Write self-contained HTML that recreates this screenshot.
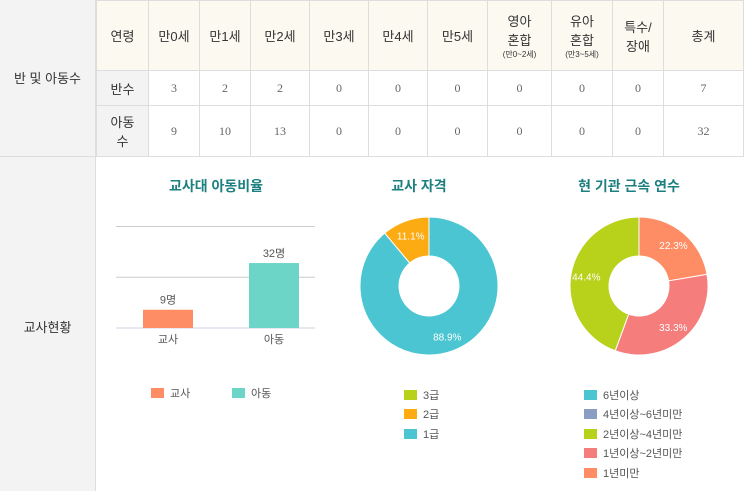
<!DOCTYPE html>
<html><head><meta charset="utf-8"><style>
body{margin:0;width:744px;height:491px;overflow:hidden;background:#fff;font-family:"Liberation Sans","Noto Sans CJK KR",sans-serif;color:#333;position:relative}
.abs{position:absolute}
table{position:absolute;left:96px;top:0;border-collapse:collapse;font-size:12px}
td{border:1px solid #ddd;text-align:center;padding:0;color:#666;font-family:"Liberation Serif","Noto Serif CJK SC",serif}
tr.h td{background:#fcf9f1;color:#333;font-family:"Liberation Sans","Noto Sans CJK KR",sans-serif;font-size:13px;height:69px}
td.rh{background:#f3f3f3;color:#333;font-family:"Liberation Sans","Noto Sans CJK KR",sans-serif;font-size:13px}
small{font-size:8px;display:block}
.title{color:#1d7f80;font-size:14px;font-weight:bold;text-align:center;width:200px;top:176px}
.lg{font-size:11px;color:#555;display:flex;align-items:center}
.lg i{display:inline-block;width:13px;height:10px;margin-right:6px}
</style></head><body>
<div class="abs" style="left:0;top:0;width:95px;height:491px;background:#f3f3f3;border-right:1px solid #ddd"></div>
<div class="abs" style="left:0;top:156px;width:744px;height:1px;background:#ddd"></div>
<div class="abs" style="left:0;top:68px;width:95px;text-align:center;font-size:13px">반 및 아동수</div>
<div class="abs" style="left:0;top:317px;width:95px;text-align:center;font-size:13px">교사현황</div>
<table>
<tr class="h"><td class="rh" style="width:51px;background:#fcf9f1">연령</td><td style="width:50px">만0세</td><td style="width:50px">만1세</td><td style="width:58px">만2세</td><td style="width:58px">만3세</td><td style="width:58px">만4세</td><td style="width:59px">만5세</td><td style="width:63px">영아<br>혼합<small>(만0~2세)</small></td><td style="width:60px">유아<br>혼합<small>(만3~5세)</small></td><td style="width:50px">특수/<br>장애</td><td style="width:79px">총계</td></tr>
<tr style="height:35px"><td class="rh">반수</td><td>3</td><td>2</td><td>2</td><td>0</td><td>0</td><td>0</td><td>0</td><td>0</td><td>0</td><td>7</td></tr>
<tr style="height:51px"><td class="rh">아동<br>수</td><td>9</td><td>10</td><td>13</td><td>0</td><td>0</td><td>0</td><td>0</td><td>0</td><td>0</td><td>32</td></tr>
</table>
<div class="abs title" style="left:116px">교사대 아동비율</div>
<div class="abs title" style="left:319px">교사 자격</div>
<div class="abs title" style="left:529px">현 기관 근속 연수</div>
<svg class="abs" style="left:0;top:0" width="744" height="491" id="cv"></svg>
<div class="abs lg" style="left:151px;top:385px"><i style="background:#fe8c64"></i>교사</div>
<div class="abs lg" style="left:232px;top:385px"><i style="background:#6dd5c8"></i>아동</div>
<div id="lg1" class="abs" style="left:404px;top:385px"></div>
<div id="lg2" class="abs" style="left:584px;top:385px"></div>
<script>
const barCats=["교사","아동"];
const barVals=[9,32];
const barLabels=["9명","32명"];
const grid=[25,50];
const q1Cats=["3급","2급","1급"];
const q1Vals=[0,11.1,88.9];
const q2Cats=["6년이상","4년이상~6년미만","2년이상~4년미만","1년이상~2년미만","1년미만"];
const q2Vals=[0,0,44.4,33.3,22.3];
const c1=["#b8d11b","#fdab12","#4ac5d1"];
const c2=["#4ac5d1","#8b9dc3","#b8d11b","#f57d7c","#fe8c64"];
const NS="http://www.w3.org/2000/svg",svg=document.getElementById('cv');
function mk(t,a){const e=document.createElementNS(NS,t);for(const k in a)e.setAttribute(k,a[k]);svg.appendChild(e);return e;}
const base=328,ppu=2.03,y=v=>base-v*ppu,x=i=>116+i*106+27;
grid.forEach(g=>{const l=mk('line',{x1:116,x2:315,y1:y(g),y2:y(g),stroke:'#ccc'});

});
const ax=mk('line',{x1:116,x2:315,y1:base,y2:base,stroke:'#ccd6e0'});


const bc=["#fe8c64","#6dd5c8"];
barVals.forEach((v,i)=>{
const r=mk('rect',{x:x(i),y:y(v),width:50,height:v*ppu,fill:bc[i]});


const t=mk('text',{x:x(i)+25,y:y(v)-6,'text-anchor':'middle','font-size':11,fill:'#555'});t.textContent=barLabels[i];


const c=mk('text',{x:x(i)+25,y:base+15,'text-anchor':'middle','font-size':11,fill:'#555'});c.textContent=barCats[i];

});
function donut(cx,cy,vals,cols,order,name){
const tot=vals.reduce((a,b)=>a+b,0);let a=0;const R=69,r=30;
order.forEach(i=>{const v=vals[i];if(!v)return;const a0=a,a1=a+v/tot*2*Math.PI;a=a1;
const p=(ang,rr)=>[cx+rr*Math.sin(ang),cy-rr*Math.cos(ang)];
const lg=(a1-a0)>Math.PI?1:0;const[p1,p2,p3,p4]=[p(a0,R),p(a1,R),p(a1,r),p(a0,r)];
const s=mk('path',{d:`M${p1}A${R},${R} 0 ${lg} 1 ${p2}L${p3}A${r},${r} 0 ${lg} 0 ${p4}Z`,fill:cols[i],stroke:'#fff','stroke-width':1});


const m=(a0+a1)/2,lp=p(m,(R+r)/2+4);
const t=mk('text',{x:lp[0],y:lp[1]+4,'text-anchor':'middle','font-size':10,fill:'#fff'});t.textContent=v.toFixed(1)+'%';

});}
donut(429,286,q1Vals,c1,[2,1,0],'qualification');
donut(639,286,q2Vals,c2,[4,3,2,1,0],'tenure');
function legend(id,cats,cols,name){const box=document.getElementById(id);
cats.forEach((c,i)=>{const d=document.createElement('div');d.className='lg';d.style.height='19.5px';


d.innerHTML='<i style="background:'+cols[i]+'"></i>'+c;box.appendChild(d);});}
legend('lg1',q1Cats,c1,'qualification');
legend('lg2',q2Cats,c2,'tenure');
</script>
</body></html>
